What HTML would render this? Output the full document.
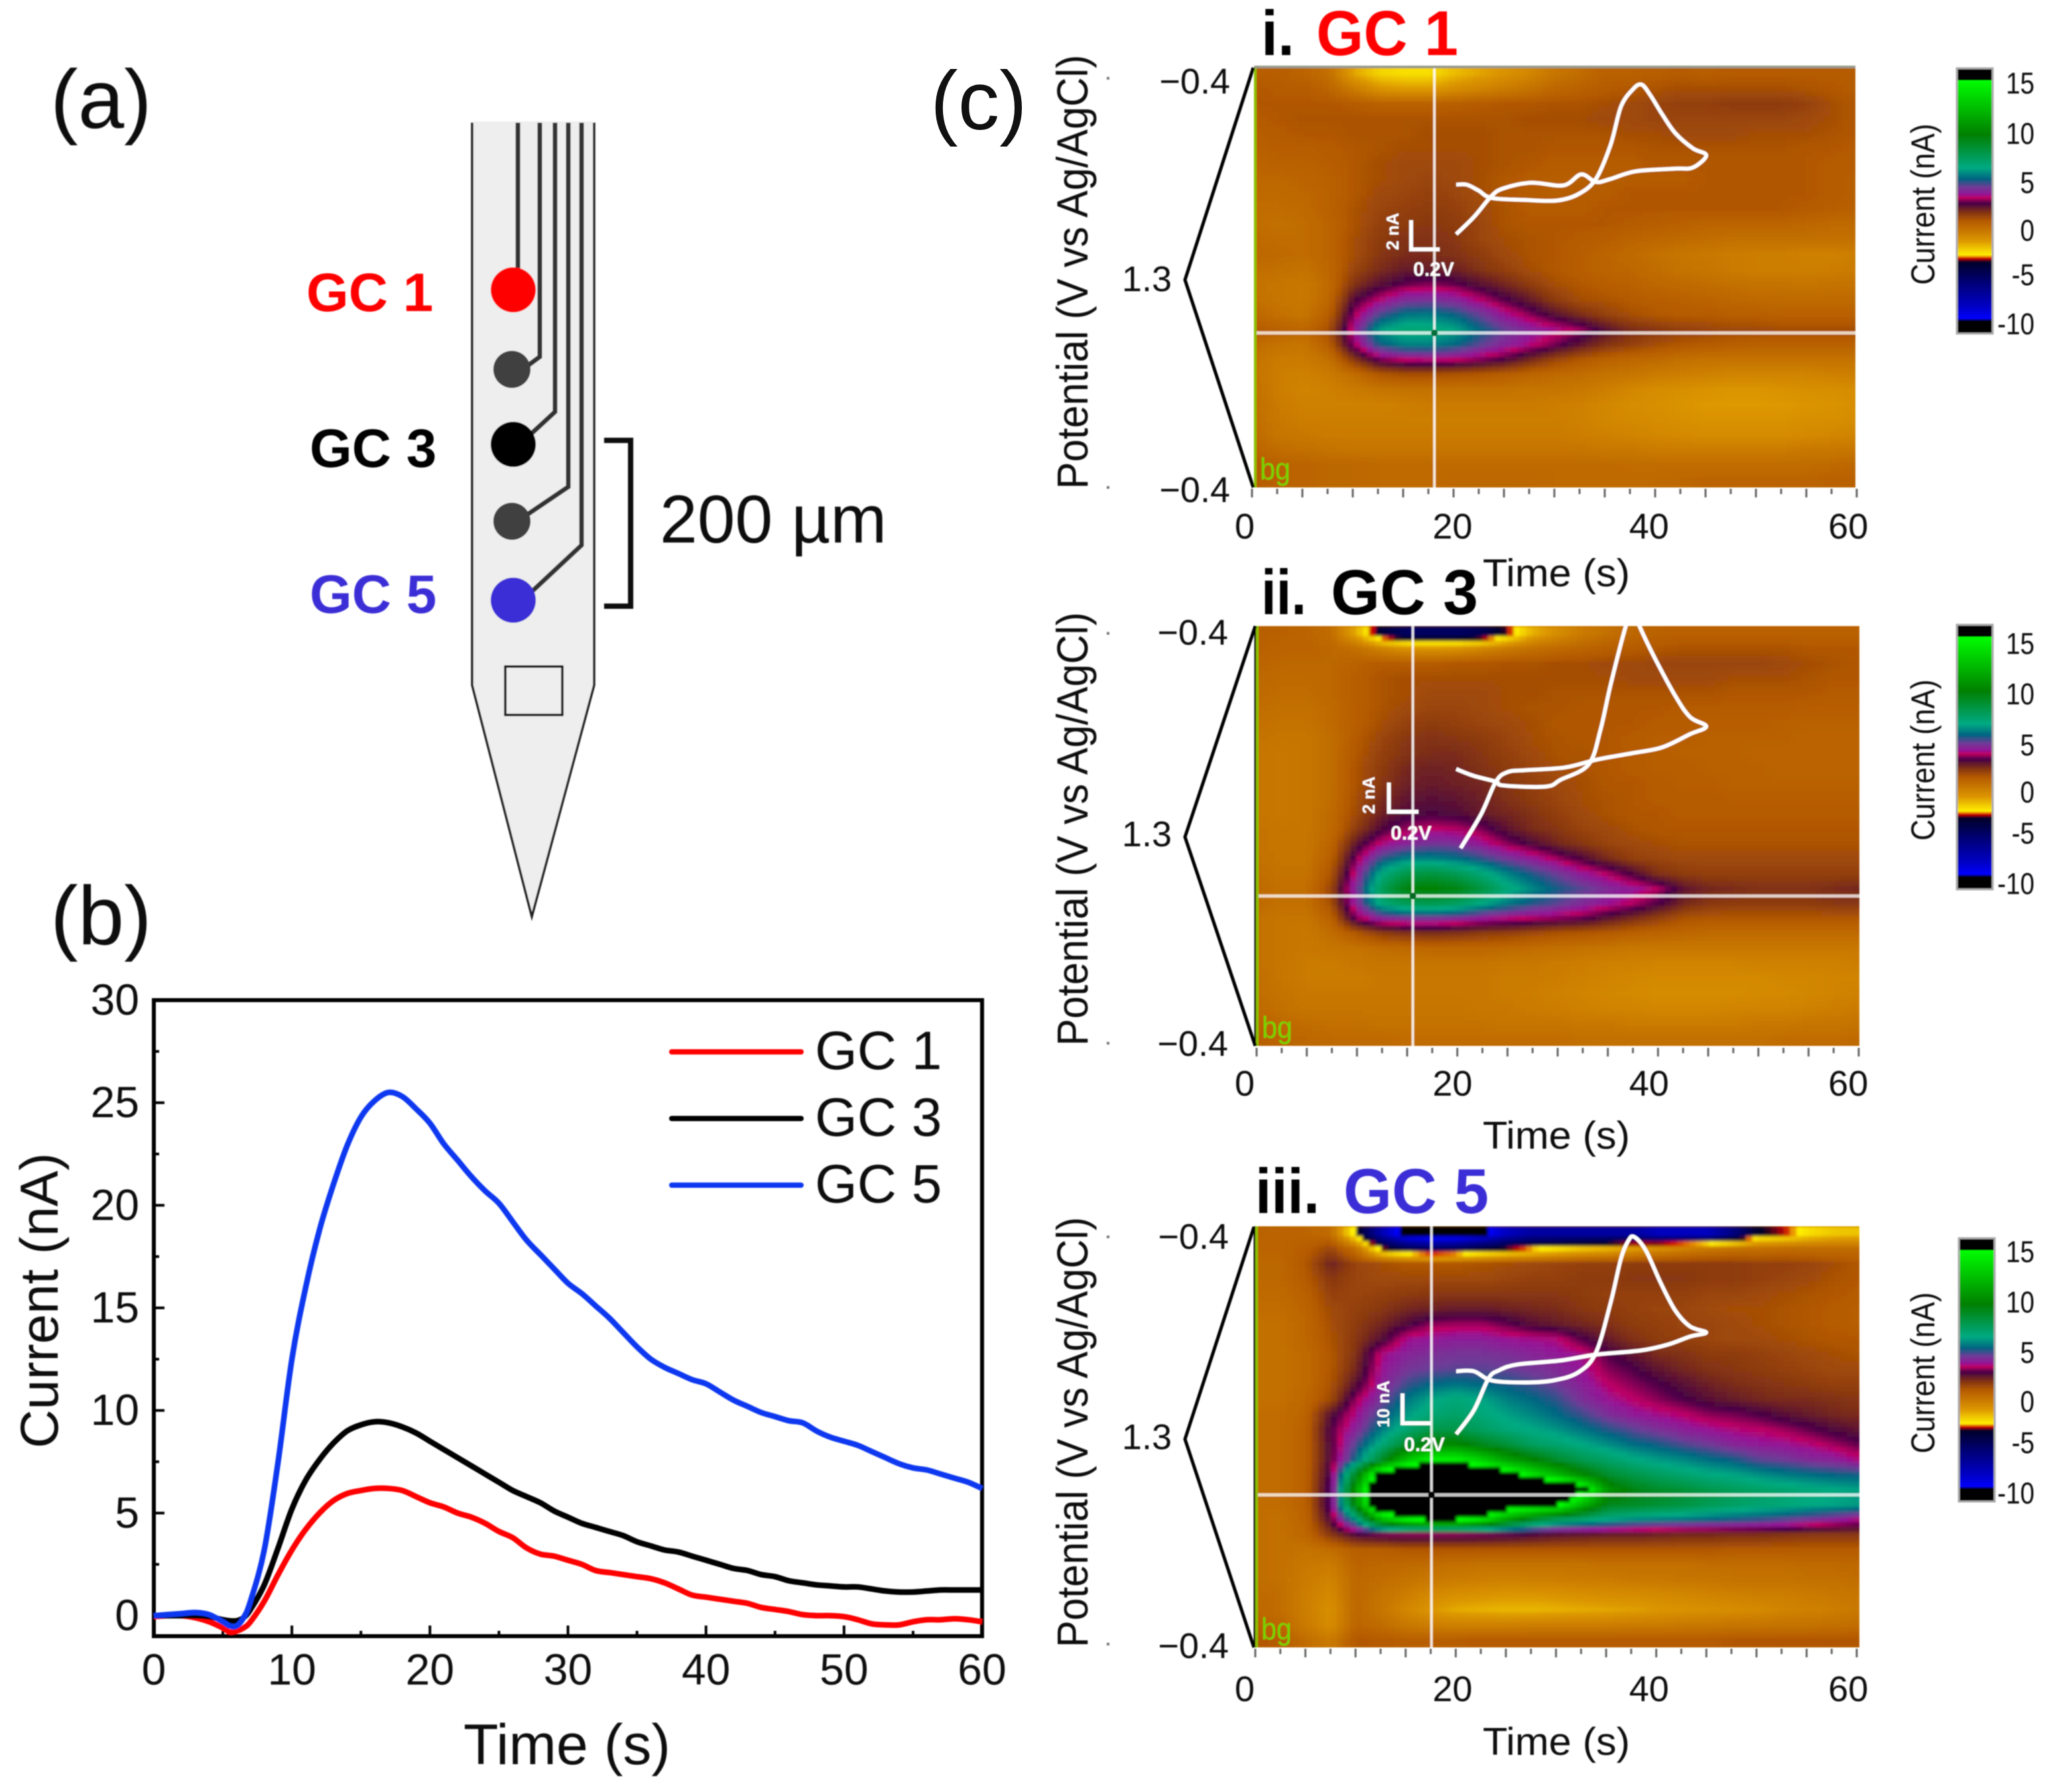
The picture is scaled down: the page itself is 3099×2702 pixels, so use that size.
<!DOCTYPE html>
<html lang="en">
<head>
<meta charset="utf-8">
<title>Fast-scan voltammetry figure</title>
<style>
html,body{margin:0;padding:0;background:#fff;}
svg{display:block;}
text{font-family:"Liberation Sans",sans-serif;}
</style>
</head>
<body>
<svg id="fig" xmlns="http://www.w3.org/2000/svg" width="3099" height="2702" viewBox="0 0 3099 2702">
  <defs>
    <filter id="soft" x="-2%" y="-2%" width="104%" height="104%"><feGaussianBlur stdDeviation="2"/></filter>
    <filter id="softLine" x="-5%" y="-5%" width="110%" height="110%"><feGaussianBlur stdDeviation="0.8"/></filter>
  </defs>
  <rect x="0" y="0" width="3099" height="2702" fill="#fff"/>

  <g id="panel-a" filter="url(#softLine)">
    <text x="76" y="193" font-size="125" fill="#111">(a)</text>
    <path d="M712 185 L712 1033 L802 1382 L896 1033 L896 185" fill="#eeeeee" stroke="#222" stroke-width="3.5"/>
    <rect x="714" y="183" width="180" height="3" fill="#eeeeee"/>
    <path d="M781 185 L781 420" fill="none" stroke="#333" stroke-width="7"/>
    <path d="M814 185 L814 538 L795 552" fill="none" stroke="#333" stroke-width="7"/>
    <path d="M837 185 L837 621 L800 655" fill="none" stroke="#333" stroke-width="7"/>
    <path d="M857 185 L857 734 L795 776" fill="none" stroke="#333" stroke-width="7"/>
    <path d="M877 185 L877 822 L802 892" fill="none" stroke="#333" stroke-width="7"/>
    <circle cx="774" cy="437" r="34" fill="#ff0000"/>
    <circle cx="772" cy="557" r="28" fill="#404040"/>
    <circle cx="774" cy="670" r="34" fill="#000"/>
    <circle cx="772" cy="786" r="28" fill="#404040"/>
    <circle cx="774" cy="905" r="34" fill="#3a2fd6"/>
    <rect x="762" y="1005" width="86" height="73" fill="none" stroke="#111" stroke-width="3.5"/>
    <path d="M911 664 L951 664 L951 914 L911 914" fill="none" stroke="#111" stroke-width="8"/>
    <text x="995" y="818" font-size="102" fill="#111">200 µm</text>
    <text x="462" y="469" font-size="82" font-weight="bold" fill="#ff0000">GC 1</text>
    <text x="467" y="704" font-size="82" font-weight="bold" fill="#000">GC 3</text>
    <text x="467" y="924" font-size="82" font-weight="bold" fill="#3a2fd6">GC 5</text>
  </g>

  <g id="panel-b" filter="url(#softLine)">
    <text x="76" y="1424" font-size="125" fill="#111">(b)</text>
    <text x="855" y="2660" font-size="86" text-anchor="middle" fill="#111">Time (s)</text>
    <text transform="translate(87 1961) rotate(-90)" font-size="81" text-anchor="middle" fill="#111">Current (nA)</text>
  </g>

  <text x="1403" y="195" font-size="125" fill="#111">(c)</text>
  <g id="panel-c"></g>
</svg>

<script>
// ---------- Panel (b) data ----------
const timeS = [0,1,2,3,4,5,5.5,6,6.5,7,8,9,10,11,12,13,14,15,16,17,18,19,20,21,22,23,24,25,26,27,28,29,30,31,32,33,34,35,36,37,38,39,40,41,42,43,44,45,46,47,48,49,50,51,52,53,54,55,56,57,58,59,60];
const gc1Current = [-.05,0,0,-.1,-.3,-.6,-.8,-.75,-.6,-.3,.7,2,3.2,4.2,5,5.6,5.95,6.1,6.2,6.2,6.1,5.8,5.5,5.3,5,4.8,4.5,4.1,3.8,3.3,3,2.9,2.7,2.5,2.2,2.1,2,1.9,1.8,1.6,1.3,1,.9,.8,.7,.6,.4,.3,.2,.05,0,0,-.05,-.2,-.4,-.45,-.45,-.3,-.2,-.2,-.15,-.2,-.3];
const gc3Current = [0,0,0,0,-.05,-.2,-.25,-.25,-.1,.3,1.5,3.3,5.2,6.6,7.6,8.4,9,9.3,9.45,9.4,9.2,8.9,8.5,8.1,7.7,7.3,6.9,6.5,6.1,5.8,5.5,5.1,4.8,4.5,4.3,4.1,3.9,3.6,3.4,3.2,3.1,2.9,2.7,2.5,2.3,2.2,2,1.9,1.7,1.6,1.5,1.45,1.4,1.4,1.3,1.2,1.15,1.15,1.2,1.25,1.25,1.25,1.25];
const gc5Current = [0,.05,.1,.15,.05,-.3,-.5,-.5,-.1,.7,3.2,7.5,12.5,16,18.8,21,22.9,24.3,25.1,25.5,25.3,24.7,24,23,22.2,21.4,20.7,20.1,19.2,18.3,17.6,16.9,16.2,15.7,15.1,14.5,13.8,13.1,12.5,12.1,11.8,11.5,11.3,10.9,10.5,10.2,9.9,9.7,9.5,9.4,9,8.7,8.5,8.3,8,7.7,7.4,7.2,7.1,6.9,6.7,6.5,6.2];
const xTickValues = [0,10,20,30,40,50,60];
const yTickValues = [0,5,10,15,20,25,30];
const legendLabels = ["GC 1","GC 3","GC 5"];

// ---------- Panel (c) heatmap data (nA, rows top to bottom, columns follow heatTimes) ----------
const heatTimes = [0,2.5,5,7.5,10,12.5,15,17.5,20,22.5,25,27.5,30,32.5,35,37.5,40,42.5,45,47.5,50,52.5,55,57.5,60];
const heatGc1 = [
[.8,.8,.6,.2,-1.4,-2.2,-2.4,-2.4,-1.8,-1.4,-1,-.6,0,.3,.7,.7,.8,.9,.8,.9,.9,.9,.9,.9,.9],
[1,.9,.9,.6,-.2,-1,-1.2,-1.2,-.8,-.5,-.2,.1,.5,.7,.9,1,1.1,1.2,1.2,1.2,1.2,1.2,1.1,1,.9],
[1,1,1,1,.9,.7,.7,.7,.8,.9,1,1,1.1,1.1,1.2,1.3,1.4,1.5,1.5,1.6,1.6,1.6,1.5,1.2,1],
[.9,1,1.1,1.1,1.1,1.1,1.1,1.1,1.1,1.1,1.1,1.2,1.2,1.2,1.3,1.3,1.4,1.4,1.4,1.4,1.4,1.4,1.3,1.2,1],
[.8,.9,1,1,1.1,1.1,1.1,1.2,1.2,1.2,1.1,1.1,1.1,1.1,1.1,1.2,1.2,1.3,1.3,1.3,1.2,1.2,1.2,1.1,1],
[.7,.8,.8,.9,1,1.1,1.2,1.2,1.2,1.2,1.1,1.1,1,1,1,1,1.1,1.1,1.1,1.1,1.1,1.1,1,1,.9],
[.6,.7,.7,.8,1,1.2,1.3,1.3,1.3,1.2,1.1,1,.9,.9,.9,.9,1,1,1,1,1,1,1,.9,.9],
[.5,.5,.6,.7,1,1.2,1.3,1.4,1.3,1.2,1,.9,.8,.8,.9,.9,.9,.9,1,1,1,1,1,.9,.8],
[.4,.4,.5,.7,1,1.3,1.4,1.5,1.4,1.2,1,.9,.8,.9,.9,1,1,1,1,1,1,1,1,.9,.8],
[.3,.3,.4,.7,1.1,1.4,1.5,1.6,1.5,1.3,1.1,.9,.9,.9,1,1,1,1,1,1,1,1,.9,.8,.7],
[.3,.2,.3,.6,1.1,1.5,1.6,1.7,1.6,1.4,1.1,1,1,1,1,.9,.8,.7,.6,.6,.6,.6,.5,.4,.4],
[.4,.3,.3,.6,1.2,1.6,1.8,1.8,1.7,1.4,1.2,1.1,1,.9,.8,.6,.5,.4,.3,.2,.2,.2,.2,.2,.2],
[.5,.4,.3,.6,1.2,1.7,1.9,1.9,1.8,1.6,1.3,1.1,1,.8,.6,.4,.2,0,-.1,-.2,-.3,-.3,-.4,-.4,-.3],
[.3,.2,.1,.5,1.4,1.9,2.2,2.2,2.1,1.8,1.5,1.2,1,.8,.6,.5,.3,.1,0,-.2,-.3,-.3,-.3,-.3,-.2],
[.1,0,-.1,.4,1.8,2.4,2.8,3,2.8,2.4,2,1.6,1.2,1,.8,.7,.5,.4,.3,.2,.1,.1,0,.1,.1],
[.2,0,-.1,.5,2.5,3.3,4,4.1,3.9,3.3,2.7,2.2,1.6,1.2,1.1,.9,.8,.7,.6,.5,.4,.4,.4,.4,.4],
[.5,.2,0,.8,3.1,4.6,5.4,5.5,5.1,4.4,3.6,3,2.4,1.9,1.5,1.2,1,.9,.9,.8,.8,.7,.7,.7,.7],
[.9,.7,.5,1.2,3.6,6,6.7,6.6,6.2,5.2,4.4,3.9,3.5,3.1,2.4,1.9,1.7,1.5,1.4,1.3,1.3,1.2,1.2,1.2,1.2],
[.4,.1,0,.8,3.1,5,5.6,5.6,5.2,4.5,3.9,3.4,2.9,2.3,1.8,1.5,1.2,1,.9,.8,.7,.7,.7,.7,.7],
[.1,-.2,-.2,.2,1.7,2.9,3.3,3.4,3.3,3,2.6,2,1.4,1,.7,.5,.4,.2,.1,.1,.1,.1,.1,.1,.1],
[.1,-.3,-.4,-.2,.3,1,1.2,1.2,1.1,1,.8,.6,.4,.3,.1,0,-.2,-.3,-.4,-.5,-.5,-.5,-.5,-.4,-.3],
[.2,-.3,-.5,-.4,-.2,0,.1,.1,.1,.1,.1,0,0,-.1,-.3,-.6,-.8,-.9,-1,-1.1,-1.1,-1,-.9,-.9,-.8],
[.3,-.2,-.4,-.4,-.4,-.4,-.3,-.2,-.2,-.2,-.2,-.2,-.3,-.4,-.6,-.8,-.9,-1,-1.2,-1.2,-1.2,-1.2,-1.1,-1,-.9],
[.3,-.1,-.3,-.3,-.3,-.3,-.3,-.3,-.3,-.3,-.3,-.3,-.3,-.4,-.6,-.7,-.8,-.9,-1,-1,-1,-1,-.9,-.9,-.8],
[.4,0,-.1,-.2,-.2,-.2,-.2,-.2,-.2,-.2,-.2,-.2,-.2,-.3,-.4,-.5,-.6,-.7,-.8,-.8,-.8,-.8,-.7,-.6,-.5],
[.6,.3,.2,.1,0,0,0,0,0,0,0,0,0,0,-.1,-.1,-.2,-.2,-.2,-.2,-.2,-.2,-.1,-.1,0],
[.9,.7,.6,.5,.5,.4,.4,.4,.4,.4,.4,.4,.4,.4,.4,.3,.3,.3,.3,.3,.3,.3,.3,.4,.5],
[.9,.7,.6,.5,.5,.4,.4,.4,.5,.5,.5,.5,.4,.4,.4,.4,.4,.5,.6,.6,.6,.6,.6,.7,.7]
];
const heatGc3 = [
[.8,.7,.6,.3,-1.5,-4,-5,-5,-5,-4.6,-3.2,-1.6,-.8,-.2,.2,.5,.7,.7,.7,.7,.7,.7,.7,.7,.7],
[.7,.6,.6,.5,.2,-.5,-1,-1.1,-1,-.6,-.2,.2,.4,.6,.8,.9,1,1.1,1.1,1.1,1.1,1.1,1,1,1],
[.6,.5,.5,.5,.7,.9,.9,.9,1,1,1.1,1.1,1.2,1.2,1.3,1.3,1.4,1.4,1.4,1.4,1.4,1.3,1.2,1.1,1],
[.5,.4,.4,.5,.8,1.1,1.2,1.2,1.2,1.2,1.2,1.2,1.2,1.2,1.2,1.3,1.3,1.3,1.3,1.2,1.2,1.2,1.1,1,1],
[.4,.3,.3,.5,.8,1.1,1.2,1.3,1.3,1.3,1.2,1.2,1.1,1.1,1.1,1.1,1.1,1.1,1.1,1,1,1,1,.9,.9],
[.3,.2,.2,.4,.8,1.1,1.3,1.4,1.4,1.3,1.2,1.1,1.1,1,1,1,1,.9,.9,.9,.9,.9,.8,.8,.8],
[.2,.1,.1,.4,.8,1.2,1.5,1.6,1.5,1.4,1.3,1.2,1,1,1,1,.9,.9,.8,.8,.8,.7,.7,.7,.7],
[.1,0,0,.3,.9,1.4,1.7,1.8,1.7,1.6,1.4,1.2,1.1,1,1,.9,.8,.8,.7,.7,.7,.7,.6,.6,.6],
[0,-.1,0,.3,1,1.5,1.8,1.9,1.9,1.7,1.5,1.3,1.1,1.1,1,.9,.8,.7,.7,.7,.6,.6,.6,.6,.6],
[0,-.1,0,.3,1.1,1.6,2,2.1,2,1.8,1.6,1.4,1.2,1.1,1,.9,.8,.8,.7,.7,.7,.6,.6,.6,.6],
[0,-.1,0,.3,1.1,1.7,2.1,2.2,2.1,2,1.7,1.5,1.3,1.2,1,1,.9,.8,.8,.7,.7,.7,.7,.7,.7],
[0,-.1,0,.3,1.2,1.9,2.3,2.4,2.3,2.1,1.8,1.6,1.4,1.2,1.1,1,.9,.9,.9,.8,.8,.8,.8,.8,.8],
[0,-.1,0,.4,1.3,2.1,2.5,2.6,2.5,2.2,2,1.8,1.5,1.3,1.1,1,1,.9,.9,.9,.9,.9,.9,.9,.9],
[.1,0,0,.4,1.6,2.5,3.1,3.3,3.2,2.9,2.3,1.9,1.7,1.4,1.3,1.1,1,1,1,1,1,1,1,1,1],
[.1,0,0,.6,2.3,3.4,3.9,4.2,4.1,3.6,3,2.5,2,1.7,1.4,1.3,1.2,1.1,1.1,1.1,1.1,1.1,1.1,1.1,1.1],
[.2,0,0,.8,3,4.8,5.6,5.6,5.3,4.8,4.2,3.7,3.1,2.5,1.9,1.5,1.4,1.3,1.3,1.3,1.3,1.3,1.3,1.3,1.3],
[.3,.1,.1,1.1,3.6,6.4,7.8,8,7.5,6.6,5.6,4.9,4.3,3.7,3.2,2.5,1.8,1.6,1.5,1.5,1.5,1.5,1.5,1.5,1.5],
[.4,.2,.2,1.4,4.1,7.4,9.4,9.6,9.2,8,6.6,5.7,5,4.5,4,3.7,3.2,2.3,2,1.9,1.8,1.8,1.8,1.9,2],
[.4,.2,.2,1.2,3.9,6.6,7.5,7.6,7.2,6.3,5.5,4.9,4.5,4,3.6,3.2,2.7,2,1.7,1.6,1.6,1.6,1.6,1.7,1.7],
[.2,0,0,.7,3,3.9,4.2,4.2,4,3.6,3.4,3.2,3,2.8,2.3,1.9,1.5,1.1,1,1,1,1,1,1,1],
[.2,0,-.1,.3,1,1.6,1.8,1.9,1.8,1.6,1.5,1.3,1.1,1,.9,.7,.6,.5,.4,.4,.4,.4,.4,.4,.4],
[.2,0,-.1,0,.1,.3,.4,.5,.5,.5,.4,.3,.2,.1,0,-.1,-.1,-.1,-.1,-.1,-.1,-.1,-.1,-.1,-.1],
[.2,0,-.2,-.2,-.1,0,0,0,0,0,-.1,-.1,-.2,-.3,-.4,-.4,-.5,-.5,-.5,-.5,-.4,-.4,-.4,-.4,-.3],
[.3,0,-.2,-.2,-.2,-.1,-.1,-.1,-.1,-.1,-.2,-.2,-.3,-.4,-.5,-.6,-.7,-.7,-.7,-.7,-.7,-.6,-.6,-.5,-.5],
[.3,.1,-.1,-.1,-.1,-.1,-.1,-.1,-.1,-.1,-.2,-.3,-.4,-.5,-.6,-.7,-.8,-.8,-.8,-.8,-.7,-.7,-.6,-.5,-.4],
[.4,.2,0,0,0,0,0,0,0,-.1,-.1,-.2,-.3,-.4,-.5,-.5,-.6,-.6,-.6,-.5,-.5,-.5,-.4,-.3,-.2],
[.6,.4,.3,.2,.2,.1,.1,.1,.1,.1,0,0,0,-.1,-.1,-.2,-.2,-.2,-.2,-.2,-.1,-.1,0,0,.1],
[.8,.6,.5,.4,.4,.4,.3,.3,.3,.3,.3,.3,.3,.2,.2,.2,.2,.2,.2,.2,.2,.3,.3,.3,.4]
];
const heatGc5 = [
[.7,.6,.6,.3,-3.1,-7.5,-10.5,-11,-11,-10,-8,-7,-7,-7,-7,-7,-8,-8,-8,-6,-3.5,-3.1,-2.4,-2,-1.9],
[.6,.6,.8,1.4,.2,-3.1,-4.5,-5,-4.8,-4,-3.3,-2.8,-2.4,-1.9,-1.6,-1.2,-.8,-.4,-.1,.1,.2,.3,.3,.3,.3],
[.5,.5,1,2.1,1.4,1.2,1,1,1,1.1,1.2,1.3,1.4,1.5,1.5,1.6,1.6,1.6,1.6,1.6,1.5,1.5,1.4,1.2,1],
[.5,.5,.9,1.7,1.4,1.3,1.3,1.3,1.3,1.3,1.4,1.5,1.5,1.6,1.6,1.7,1.7,1.7,1.6,1.6,1.5,1.4,1.3,1.1,1],
[.4,.4,.7,1.5,1.4,1.5,1.6,1.7,1.7,1.7,1.7,1.7,1.7,1.6,1.5,1.5,1.5,1.5,1.4,1.4,1.3,1.2,1.1,1,.9],
[.3,.3,.6,1.3,1.5,1.7,2,2.1,2.2,2.2,2.1,2,1.9,1.7,1.6,1.5,1.4,1.4,1.3,1.2,1.2,1.1,1,.9,.8],
[.2,.2,.5,1.2,1.6,2,2.5,3,3.1,3.1,2.8,2.4,2.2,2,1.8,1.6,1.5,1.4,1.4,1.3,1.2,1.1,1,.9,.8],
[.2,.2,.5,1.1,1.7,2.4,3.5,3.7,3.8,3.8,3.6,3.5,3.4,2.7,2.2,1.8,1.6,1.5,1.4,1.3,1.3,1.2,1.1,1,1],
[.2,.2,.4,1,1.8,3.4,3.9,4.1,4.2,4.2,4.1,3.9,3.7,3.5,2.7,2.3,1.9,1.8,1.6,1.6,1.5,1.4,1.3,1.2,1.1],
[.2,.2,.4,1,2,3.6,4.2,4.4,4.5,4.5,4.4,4.2,4,3.6,3,2.7,2.3,2,1.8,1.7,1.6,1.5,1.4,1.3,1.3],
[.2,.2,.4,1.1,2.4,3.8,4.7,5.2,5.4,5.2,5,4.7,4.3,3.8,3.3,3,2.7,2.4,2.1,1.9,1.8,1.7,1.6,1.5,1.5],
[.2,.2,.5,1.3,3.1,4.2,5.4,6.2,6.6,6.2,5.6,5.2,4.8,4.1,3.6,3.3,3,2.7,2.4,2.2,2,1.9,1.9,1.8,1.7],
[.3,.3,.6,2.4,3.5,4.8,6,6.7,7,6.6,6.1,5.7,5.2,4.7,4.1,3.7,3.5,3.3,3,2.9,2.7,2.4,2.2,2,1.9],
[.3,.3,.7,2.7,3.9,5.5,6.8,7.7,7.8,7.2,6.6,6.3,5.9,5.4,4.9,4.5,4.1,3.8,3.6,3.4,3.3,3.1,2.8,2.5,2.3],
[.3,.3,.7,2.6,4.6,6.5,8.5,10,10,9,8.2,7.2,6.8,6.3,5.8,5.3,5,4.6,4.3,3.9,3.7,3.6,3.4,3.1,2.8],
[.3,.3,.7,2.6,5.3,8.5,12.5,14.5,14.5,13,11,9.8,8.5,7.6,7,6.4,6,5.7,5.3,5,4.5,4.3,4,3.8,3.4],
[.3,.3,.7,2.8,9,17,19,19,19,18,16.5,14,12,10,8.5,7.8,7.2,6.8,6.4,6.2,5.8,5.5,5.3,5.1,5],
[.3,.3,.7,3,11,20,20,20,20,20,20,20,20,16,10.5,9.2,8.6,8.2,7.7,7.3,7,6.8,6.5,6.3,6.1],
[.3,.3,.7,3,10,19,20,20,20,19,17,16.5,15.6,12,9,8.7,8.3,8,7.5,7.1,6.8,6.6,6.3,6.2,6],
[.3,.2,.6,2.6,6,12,14.5,15.5,15.3,14,11,8.8,7.5,6.8,6.2,5.8,5.6,5.4,5.2,5,4.8,4.5,4.2,3.8,3.4],
[.3,.2,.5,1.7,2.6,2.9,3,3,3,2.9,2.8,2.6,2.4,2.3,2.2,2.2,2.1,2,2,1.9,1.9,1.8,1.7,1.7,1.7],
[.3,.2,.1,.3,.8,.8,1,1,1,1,1,1,1,1,1,1,1,1,1,.9,.9,.9,.9,.9,.9],
[.3,.2,-.1,-.2,.6,.5,.4,.3,.2,.1,.1,.1,.1,.1,.2,.2,.2,.2,.3,.3,.3,.3,.4,.4,.5],
[.3,.2,-.2,-.5,.5,.3,.1,-.1,-.2,-.3,-.4,-.3,-.3,-.2,-.2,-.1,-.1,0,0,.1,.1,.1,.2,.2,.3],
[.4,.3,-.3,-.7,.5,.1,-.3,-.7,-.9,-1,-1.1,-1.1,-1,-.9,-.8,-.8,-.7,-.6,-.5,-.4,-.3,-.3,-.2,-.1,0],
[.5,.3,-.3,-.9,.5,0,-.6,-1.1,-1.5,-1.6,-1.7,-1.7,-1.6,-1.5,-1.4,-1.3,-1.1,-1,-.9,-.8,-.7,-.5,-.4,-.3,-.1],
[.7,.5,-.2,-.8,.6,.3,-.1,-.3,-.4,-.4,-.4,-.3,-.3,-.3,-.3,-.2,-.2,-.1,-.1,0,0,.1,.1,.2,.3],
[1,.9,.3,-.2,1,.9,.8,.8,.8,.9,.9,.9,.9,.9,.9,.9,.9,.9,.9,1,1,1,1,1,1]
];
const heatTimeTicks = [0,20,40,60];
const colorbarTicks = [15,10,5,0,-5,-10];

// ---------- Cyclic voltammogram data (V, nA) ----------
const cvPotentialGc1 = [-.4,-.33,-.25,-.16,.06,.28,.43,.55,.65,.72,.8,.86,.92,1,1.09,1.21,1.3,1.21,1.09,.82,.65,.55,.45,.33,.11,-.08,-.16,-.28,-.4];
const cvCurrentGc1 = [0,0,-.39,-.91,-1.04,-1.09,-.65,.39,2.73,5.32,6.49,6.83,6.1,4.81,3.51,2.47,2,1.17,1.09,.91,.39,.18,.7,-.05,.13,-.26,-.78,-2.21,-3.38];
const cvPotentialGc3 = [-.4,-.28,-.13,-.08,.21,.31,.5,.58,.65,.75,.8,.85,.95,1.09,1.19,1.3,1.19,1,.8,.56,.34,.07,-.05,-.13,-.23,-.37];
const cvCurrentGc3 = [0,-.48,-.88,-1.15,-1.23,-.75,.32,2.72,5.92,9.92,11.2,9.92,7.79,5.12,3.65,2.99,2.45,1.52,1.12,.67,.11,-.08,-.21,-.88,-3.15,-5.55];
const cvPotentialGc5 = [-.4,-.28,-.16,.06,.26,.43,.55,.65,.72,.77,.81,.89,.99,1.09,1.19,1.3,1.19,1.04,.85,.55,.31,.015,-.11,-.18,-.28,-.4];
const cvCurrentGc5 = [0,0,-3.2,-3.9,-3.2,-.4,6.5,23.9,39.2,45.4,46.8,42,30.8,21.1,15.6,13.5,12.1,9.3,7.2,5.8,3.75,2.35,.3,-2.5,-13.6,-21.9];

// ---------- Colour scale (nA to RGB) ----------
const cmapLevels = [-9.7,-9.6,-8.3,-5.4,-3.43,-3.07,-2.7,-1.14,.94,1.8,2.68,3.28,3.6,4.35,5.16,6.3,9.64,15.2];
const cmapRed =    [0,0,0,0,0,200,255,220,180,130,70,190,150,110,0,0,0,0];
const cmapGreen =  [0,0,0,0,0,0,240,150,90,50,0,0,20,60,100,170,128,255];
const cmapBlue =   [0,255,200,110,40,0,0,0,0,20,70,100,150,150,130,130,0,0];

const SVG_NS = "http://www.w3.org/2000/svg";
function make(tag, attrs, parent, text){
  const node = document.createElementNS(SVG_NS, tag);
  for(const k in attrs){ node.setAttribute(k, attrs[k]); }
  if(text !== undefined){ node.textContent = text; }
  parent.appendChild(node);
  return node;
}
function valueColor(v){
  if(v > 15.2 || v < -9.7){ return "rgb(0,0,0)"; }
  let i = 0;
  while(i < cmapLevels.length - 2 && v > cmapLevels[i + 1]){ i++; }
  const f = (v - cmapLevels[i]) / (cmapLevels[i + 1] - cmapLevels[i]);
  const mix = a => Math.round(a[i] + (a[i + 1] - a[i]) * f);
  return "rgb(" + mix(cmapRed) + "," + mix(cmapGreen) + "," + mix(cmapBlue) + ")";
}
// Smooth path through projected points (Catmull-Rom to Bezier)
function smoothPath(xs, ys){
  let d = "M" + xs[0].toFixed(1) + " " + ys[0].toFixed(1);
  for(let i = 0; i < xs.length - 1; i++){
    const a = Math.max(0, i - 1), b = Math.min(xs.length - 1, i + 2);
    const c1x = xs[i] + (xs[i + 1] - xs[a]) / 6, c1y = ys[i] + (ys[i + 1] - ys[a]) / 6;
    const c2x = xs[i + 1] - (xs[b] - xs[i]) / 6, c2y = ys[i + 1] - (ys[b] - ys[i]) / 6;
    d += " C" + c1x.toFixed(1) + " " + c1y.toFixed(1) + " " + c2x.toFixed(1) + " " + c2y.toFixed(1) + " " + xs[i + 1].toFixed(1) + " " + ys[i + 1].toFixed(1);
  }
  return d;
}

// ---------- Panel (b) drawing ----------
const plotB = {left:232, right:1481, top:1508, bottom:2467};
const xMinB = 0, xMaxB = 60, yMinB = -1, yMaxB = 30;
function xB(t){ return plotB.left + (t - xMinB) / (xMaxB - xMinB) * (plotB.right - plotB.left); }
function yB(v){ return plotB.bottom - (v - yMinB) / (yMaxB - yMinB) * (plotB.bottom - plotB.top); }

(function drawPanelB(){
  const g = document.getElementById("panel-b");
  const frame = make("rect", {x:plotB.left, y:plotB.top, width:plotB.right - plotB.left, height:plotB.bottom - plotB.top, fill:"none", stroke:"#000", "stroke-width":6}, g);
  
  
  for(let i = 0; i < xTickValues.length; i++){
    const v = xTickValues[i];
    const tick = make("line", {x1:xB(v), x2:xB(v), y1:plotB.bottom, y2:plotB.bottom - 16, stroke:"#000", "stroke-width":4}, g);
    
    
    if(i < xTickValues.length - 1){
      const mv = (v + xTickValues[i + 1]) / 2;
      const minor = make("line", {x1:xB(mv), x2:xB(mv), y1:plotB.bottom, y2:plotB.bottom - 8, stroke:"#000", "stroke-width":4}, g);
      
      
    }
    const label = make("text", {x:xB(v), y:2540, "font-size":66, "text-anchor":"middle", fill:"#111"}, g, String(v));
    
    
  }
  for(let i = 0; i < yTickValues.length; i++){
    const v = yTickValues[i];
    const tick = make("line", {x1:plotB.left, x2:plotB.left + 16, y1:yB(v), y2:yB(v), stroke:"#000", "stroke-width":4}, g);
    
    
    if(i < yTickValues.length - 1){
      const mv = (v + yTickValues[i + 1]) / 2;
      const minor = make("line", {x1:plotB.left, x2:plotB.left + 8, y1:yB(mv), y2:yB(mv), stroke:"#000", "stroke-width":4}, g);
      
      
    }
    const label = make("text", {x:210, y:yB(v) + 22, "font-size":66, "text-anchor":"end", fill:"#111"}, g, String(v));
    
    
  }
  const series = [[gc1Current,"#ff0000"],[gc3Current,"#000000"],[gc5Current,"#1038f0"]];
  series.forEach(function(s, k){
    const line = make("path", {d:smoothPath(timeS.map(xB), s[0].map(yB)), fill:"none", stroke:s[1], "stroke-width":8.5, "stroke-linejoin":"round"}, g);
    
    
    const ly = 1586 + k * 100.5;
    const key = make("line", {x1:1013, x2:1208, y1:ly, y2:ly, stroke:s[1], "stroke-width":8, "stroke-linecap":"round"}, g);
    
    
    const lab = make("text", {x:1229, y:ly + 26, "font-size":82, fill:"#111"}, g, legendLabels[k]);
    
    
  });
})();

// ---------- Panel (c) drawing ----------
const panels = [
  {id:"gc1", grid:heatGc1, cvV:cvPotentialGc1, cvI:cvCurrentGc1, left:1891, right:2798, top:100, bottom:735, t0:1888, t60:2800,
   crossT:18.0, crossY:502, crossDot:"#00703a", cvX:2196, cvY:278.4, cvXs:221.8, cvYs:22.1, tickY:737, labelY:812, titleY:83,
   title:[["i.",1902,50,"#000"],["GC 1",1985,214,"#ff0000"]], timeY:884, hook:[1787,422], hookTop:[1890,102], hookBot:[1890,735],
   topLab:[1855,141], botLab:[1855,757], midLab:[1767,439], dots:[118,735], ylabelCy:410, ylabelLen:655,
   barX:2951, barY:103, barH:400, barLabels:[125,201,275,347,414,488], curCy:308,
   sb:{x:2128,y0:332,y1:376,x1:2171,tx:2099,ty:349,vx:2162,vy:416,label:"2 nA"}, darkEdge:false},
  {id:"gc3", grid:heatGc3, cvV:cvPotentialGc3, cvI:cvCurrentGc3, left:1894, right:2804, top:944, bottom:1577, t0:1895, t60:2803,
   crossT:15.6, crossY:1351, crossDot:"#006a20", cvX:2196, cvY:1159.6, cvXs:221.8, cvYs:21.5, tickY:1580, labelY:1652, titleY:926,
   title:[["ii.",1902,68,"#000"],["GC 3",2007,222,"#000"]], timeY:1732, hook:[1787,1262], hookTop:[1893,944], hookBot:[1893,1577],
   topLab:[1852,972], botLab:[1852,1592], midLab:[1767,1276], dots:[955,1573], ylabelCy:1250, ylabelLen:654,
   barX:2951, barY:942, barH:399, barLabels:[970,1046,1123,1194,1256,1332], curCy:1146,
   sb:{x:2094.5,y0:1180,y1:1224,x1:2139,tx:2063,ty:1199,vx:2128,vy:1266,label:"2 nA"}, darkEdge:true},
  {id:"gc5", grid:heatGc5, cvV:cvPotentialGc5, cvI:cvCurrentGc5, left:1893, right:2804, top:1849, bottom:2484, t0:1893, t60:2800,
   crossT:17.5, crossY:2254, crossDot:"#000", cvX:2196, cvY:2067.6, cvXs:221.8, cvYs:4.33, tickY:2486, labelY:2565, titleY:1829,
   title:[["iii.",1893,97,"#000"],["GC 5",2026,219,"#3a2fd6"]], timeY:2646, hook:[1787,2170], hookTop:[1891,1850], hookBot:[1891,2484],
   topLab:[1853,1883], botLab:[1853,2500], midLab:[1767,2185], dots:[1865,2479], ylabelCy:2159.5, ylabelLen:649,
   barX:2954, barY:1867, barH:397, barLabels:[1887,1963,2039,2113,2175,2251], curCy:2070,
   sb:{x:2115,y0:2101,y1:2146,x1:2158,tx:2085,ty:2117,vx:2148,vy:2188,label:"10 nA"}, darkEdge:true}
];

function gridValue(grid, colF, rowF){
  const nr = grid.length, nc = grid[0].length;
  const c = Math.max(0, Math.min(nc - 1, colF));
  const r = Math.max(0, Math.min(nr - 1, rowF));
  const c0 = Math.floor(c), r0 = Math.floor(r);
  const c1 = Math.min(nc - 1, c0 + 1), r1 = Math.min(nr - 1, r0 + 1);
  const fc = c - c0, fr = r - r0;
  return (grid[r0][c0] * (1 - fc) + grid[r0][c1] * fc) * (1 - fr) + (grid[r1][c0] * (1 - fc) + grid[r1][c1] * fc) * fr;
}

panels.forEach(function(p){
  const root = make("g", {filter:"url(#softLine)"}, document.getElementById("panel-c"));
  
  
  const timeX = t => p.left + t / 60 * (p.right - p.left);
  const tickX = t => p.t0 + t / 60 * (p.t60 - p.t0);
  const rowY = r => p.top + r / p.grid.length * (p.bottom - p.top);

  const clip = make("clipPath", {id:"clip-" + p.id}, root);
  make("rect", {x:p.left, y:p.top, width:p.right - p.left, height:p.bottom - p.top}, clip);

  const holder = make("g", {"clip-path":"url(#clip-" + p.id + ")"}, root);
  
  
  const backing = make("rect", {x:p.left, y:p.top, width:p.right - p.left, height:p.bottom - p.top, fill:"rgb(190,105,5)"}, holder);
  
  
  const cells = make("g", {filter:"url(#soft)", "shape-rendering":"crispEdges"}, holder);
  
  
  const subX = 4, subY = 3;
  const step = heatTimes[1] - heatTimes[0];
  for(let r = 0; r < p.grid.length; r++){
    for(let c = 0; c < heatTimes.length; c++){
      for(let sy = 0; sy < subY; sy++){
        for(let sx = 0; sx < subX; sx++){
          const colF = c + (sx + .5) / subX - .5;
          const rowF = r + (sy + .5) / subY - .5;
          const v = gridValue(p.grid, colF, rowF);
          const x0 = timeX(heatTimes[c] + (sx / subX - .5) * step);
          const x1 = timeX(heatTimes[c] + ((sx + 1) / subX - .5) * step);
          const y0 = rowY(r + sy / subY);
          const y1 = rowY(r + (sy + 1) / subY);
          const cell = make("rect", {x:x0.toFixed(1), y:y0.toFixed(1), width:(x1 - x0 + .6).toFixed(1), height:(y1 - y0 + .6).toFixed(1), fill:valueColor(v)}, cells);
          
          
        }
      }
    }
  }

  // CV overlay
  const cvXs = p.cvV.map(v => p.cvX + (v + .4) * p.cvXs);
  const cvYs = p.cvI.map(i => p.cvY - i * p.cvYs);
  const cv = make("path", {d:smoothPath(cvXs, cvYs), fill:"none", stroke:"#fff", "stroke-width":6, "stroke-linejoin":"round"}, holder);
  
  

  // crosshair
  const cx = timeX(p.crossT);
  const vLine = make("line", {x1:cx, x2:cx, y1:p.top, y2:p.bottom, stroke:"rgba(255,255,255,.85)", "stroke-width":4}, holder);
  
  
  const hLine = make("line", {x1:p.left, x2:p.right, y1:p.crossY, y2:p.crossY, stroke:"rgba(255,255,255,.75)", "stroke-width":5}, holder);
  
  
  const dot = make("circle", {cx:cx, cy:p.crossY, r:5, fill:p.crossDot}, holder);
  
  

  // bg marker
  if(p.darkEdge){
    const edge = make("line", {x1:p.left - 1, x2:p.left - 1, y1:p.top, y2:p.bottom, stroke:"#111", "stroke-width":3}, root);
    
    
  }
  const bgLine = make("line", {x1:p.left + 2, x2:p.left + 2, y1:p.top, y2:p.bottom, stroke:"#8cc000", "stroke-width":4}, root);
  
  
  const bgText = make("text", {x:p.left + 9, y:p.bottom - 12, "font-size":46, fill:"#74d400", textLength:46, lengthAdjust:"spacingAndGlyphs"}, root, "bg");
  
  

  if(p.id === "gc1"){
    const edgeTop = make("line", {x1:p.left, x2:p.right, y1:p.top + 1, y2:p.top + 1, stroke:"#9a9a8a", "stroke-width":4}, root);
    
    
  }

  // time ticks
  for(let t = 0; t <= 60; t += 2.5){
    const major = t % 5 === 0;
    const tk = make("line", {x1:tickX(t), x2:tickX(t), y1:p.tickY, y2:p.tickY + (major ? 13 : 8), stroke:"#666", "stroke-width":3}, root);
    
    
  }
  const labelNudge = {0:0, 20:10, 40:3, 60:0};
  heatTimeTicks.forEach(function(t){
    const lb = make("text", {x:1877 + t * 15.17 + (labelNudge[t] || 0), y:p.labelY, "font-size":54, "text-anchor":"middle", fill:"#111"}, root, String(t));
    
    
  });
  const tt = make("text", {x:2236, y:p.timeY, "font-size":58, fill:"#111", textLength:222, lengthAdjust:"spacingAndGlyphs"}, root, "Time (s)");
  
  

  // potential axis
  const hook = make("polyline", {points:[p.hookTop, p.hook, p.hookBot].map(a => a.join(",")).join(" "), fill:"none", stroke:"#000", "stroke-width":5}, root);
  
  
  const topLab = make("text", {x:p.topLab[0], y:p.topLab[1], "font-size":54, "text-anchor":"end", fill:"#111"}, root, "\u22120.4");
  
  
  const botLab = make("text", {x:p.botLab[0], y:p.botLab[1], "font-size":54, "text-anchor":"end", fill:"#111"}, root, "\u22120.4");
  
  
  const midLab = make("text", {x:p.midLab[0], y:p.midLab[1], "font-size":54, "text-anchor":"end", fill:"#111"}, root, "1.3");
  
  
  p.dots.forEach(function(dy){
    const d = make("rect", {x:1669, y:dy - 2, width:4, height:4, fill:"#777"}, root);
    
    
  });
  const yl = make("text", {transform:"translate(1640 " + p.ylabelCy + ") rotate(-90)", "font-size":66, "text-anchor":"middle", fill:"#111", textLength:p.ylabelLen, lengthAdjust:"spacingAndGlyphs"}, root, "Potential (V vs Ag/AgCl)");
  
  

  // title
  p.title.forEach(function(tp){
    const ti = make("text", {x:tp[1], y:p.titleY, "font-size":96, "font-weight":"bold", fill:tp[3], textLength:tp[2], lengthAdjust:"spacingAndGlyphs"}, root, tp[0]);
    
    
  });

  // colorbar
  const barW = 54, zeroF = .61, nSteps = 200;
  for(let i = 0; i < nSteps; i++){
    const f = (i + .5) / nSteps;
    const v = f < zeroF ? (zeroF - f) * 400 / 14.93 : (zeroF - f) * 400 / 14;
    const seg = make("rect", {x:p.barX, y:(p.barY + i / nSteps * p.barH).toFixed(1), width:barW, height:(p.barH / nSteps + .5).toFixed(1), fill:valueColor(v), "shape-rendering":"crispEdges"}, root);
    
    
  }
  const barFrame = make("rect", {x:p.barX, y:p.barY, width:barW, height:p.barH, fill:"none", stroke:"#aaa", "stroke-width":3}, root);
  
  
  colorbarTicks.forEach(function(v, i){
    const str = String(v);
    const natural = (str.length - (v < 0 ? 1 : 0)) * .556 * 45 + (v < 0 ? .333 * 45 : 0);
    const lb = make("text", {x:3068 - natural * .86, y:p.barLabels[i] + 16, "font-size":45, fill:"#111", textLength:(natural * .86).toFixed(1), lengthAdjust:"spacingAndGlyphs"}, root, str);
    
    
  });
  const cur = make("text", {transform:"translate(2917 " + p.curCy + ") rotate(-90)", "font-size":50, "text-anchor":"middle", fill:"#111", textLength:243, lengthAdjust:"spacingAndGlyphs"}, root, "Current (nA)");
  
  

  // scale bar
  const s = p.sb;
  const sbPath = make("path", {d:"M" + s.x + " " + s.y0 + " L" + s.x + " " + s.y1 + " L" + s.x1 + " " + s.y1, fill:"none", stroke:"#fff", "stroke-width":6}, root);
  
  
  const sbI = make("text", {transform:"translate(" + (s.tx + 10) + " " + s.ty + ") rotate(-90)", "font-size":26, "font-weight":"bold", "text-anchor":"middle", fill:"#fff"}, root, s.label);
  
  
  const sbV = make("text", {x:s.vx, y:s.vy, "font-size":30, "font-weight":"bold", "text-anchor":"middle", fill:"#fff"}, root, "0.2V");
  
  
});
</script>
</body>
</html>
